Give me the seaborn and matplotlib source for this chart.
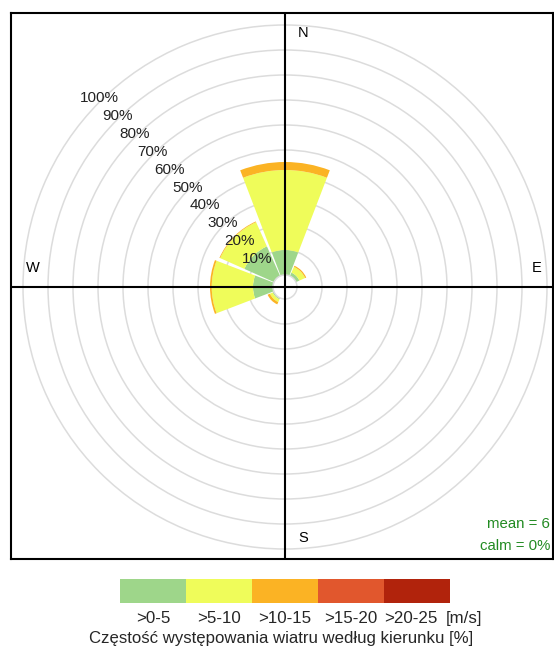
import numpy as np
import matplotlib
matplotlib.use("Agg")
import matplotlib.pyplot as plt
import matplotlib.transforms as mtransforms
from matplotlib.colors import ListedColormap
import seaborn as sns

# Wind direction sectors (bearing of sector centre, degrees clockwise from N)
directions = ["N", "NE", "E", "SE", "S", "SW", "W", "NW"]
bearings = [0, 45, 90, 135, 180, 225, 270, 315]

# Frequency [%] per direction for each wind speed class
freq_0_5 = [10.0, 1.5, 0.0, 0.0, 0.0, 0.6, 8.0, 13.0]
freq_5_10 = [32.0, 2.5, 0.0, 0.0, 0.0, 1.2, 16.5, 10.6]
freq_10_15 = [3.2, 0.5, 0.0, 0.0, 0.0, 1.0, 0.7, 0.3]
freq_15_20 = [0.0, 0.0, 0.0, 0.0, 0.0, 0.0, 0.0, 0.0]
freq_20_25 = [0.0, 0.0, 0.0, 0.0, 0.0, 0.0, 0.0, 0.0]

speed_labels = [">0-5", ">5-10", ">10-15", ">15-20", ">20-25"]
speed_colors = ["#9ED68A", "#EFFC5A", "#FBB324", "#E1572D", "#B1230C"]

ring_values = list(range(10, 101, 10))
mean_speed = 6
calm_pct = 0

sns.set_theme(style="white")
plt.rcParams["font.family"] = ["Liberation Sans", "DejaVu Sans"]

W, H = 554, 646
fig = plt.figure(figsize=(W / 100, H / 100), dpi=100)

# centre of the rose in pixels and pixel scale of the radial axis
cx, cy = 285, 287
hole = 4.8          # size of the empty middle, in % units
rmax = 104.0
px_per_pct = 2.5
R_px = (rmax + hole) * px_per_pct

grid_col = "#DCDCDC"

# ---- polar axes holding the wedges -------------------------------------
pax = fig.add_axes([(cx - R_px) / W, (H - cy - R_px) / H, 2 * R_px / W, 2 * R_px / H],
                   projection="polar")
pax.set_theta_zero_location("N")
pax.set_theta_direction(-1)
pax.set_ylim(0, rmax)
pax.set_rorigin(-hole)
pax.patch.set_visible(False)
for sp in pax.spines.values():
    sp.set_visible(False)
# the inner spine is the edge of the empty middle; keep it as a light ring
pax.spines["inner"].set_color(grid_col)
pax.spines["inner"].set_linewidth(1.1)
pax.set_xticks([])
pax.set_yticks(ring_values)
pax.set_yticklabels([])
pax.yaxis.grid(True, color=grid_col, linewidth=1.1)
pax.xaxis.grid(False)
pax.set_axisbelow(True)

theta = np.deg2rad(bearings)
width = np.deg2rad(42)
bottom = np.zeros(len(directions))
for vals, col in zip([freq_0_5, freq_5_10, freq_10_15, freq_15_20, freq_20_25], speed_colors):
    vals = np.asarray(vals)
    pax.bar(theta, vals, width=width, bottom=bottom, color=col,
            edgecolor="none", linewidth=0, zorder=2)
    bottom = bottom + vals

for v in ring_values:
    pax.text(np.deg2rad(315.5), v + 1, f"{v}%", ha="center", va="center",
             fontsize=11, color="#222222", zorder=5)

# ---- frame, compass cross and annotations -------------------------------
left, right, top, bot = 11, 553, 13, 559
bax = fig.add_axes([left / W, (H - bot) / H, (right - left) / W, (bot - top) / H])
bax.set_xlim(left - cx, right - cx)
bax.set_ylim(cy - bot, cy - top)
bax.set_facecolor("none")
bax.set_xticks([])
bax.set_yticks([])
for sp in bax.spines.values():
    sp.set_visible(True)
    sp.set_color("black")
    sp.set_linewidth(1.5)
bax.axvline(0, color="black", linewidth=1.5, zorder=3)
bax.axhline(0, color="black", linewidth=1.5, zorder=3)

for lab, x, y in [("N", 18, 254), ("E", 252, 19), ("W", -252, 19), ("S", 18, -251)]:
    bax.text(x, y, lab, ha="center", va="center", fontsize=10.5, color="black")

bax.text(265, -237, f"mean = {mean_speed}", ha="right", va="center",
         fontsize=10.8, color="forestgreen")
bax.text(265, -259, f"calm = {calm_pct}%", ha="right", va="center",
         fontsize=10.8, color="forestgreen")

# ---- colour key for wind speed classes ---------------------------------
kx0, kx1, ky0, ky1 = 120, 450, 579, 603
kax = fig.add_axes([kx0 / W, (H - ky1) / H, (kx1 - kx0) / W, (ky1 - ky0) / H])
sns.heatmap(np.arange(len(speed_labels))[None, :], ax=kax,
            cmap=ListedColormap(speed_colors), cbar=False,
            xticklabels=speed_labels, yticklabels=False, linewidths=0)
kax.tick_params(axis="x", length=0, pad=6, labelsize=12.2)
ticklabels = kax.get_xticklabels()
for t in ticklabels:
    t.set_rotation(0)
# nudge the last class label left so it clears the unit
ticklabels[-1].set_transform(ticklabels[-1].get_transform() +
                             mtransforms.ScaledTranslation(-6 / 100, 0, fig.dpi_scale_trans))
fig.text(446 / W, 1 - 619 / H, "[m/s]", ha="left", va="center", fontsize=12.2)
fig.text(281 / W, 1 - 638 / H, "Częstość występowania wiatru według kierunku [%]",
         ha="center", va="center", fontsize=12.1)

fig.savefig("out.png", dpi=100)
